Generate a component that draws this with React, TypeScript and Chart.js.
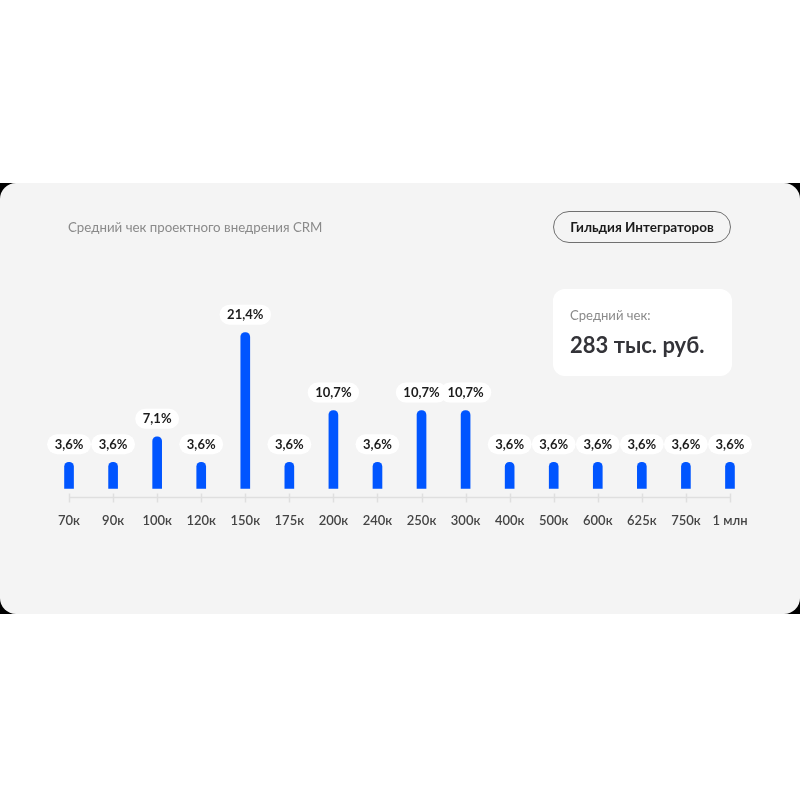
import React, { useEffect, useRef } from "react";
import { Chart, registerables } from "chart.js";

Chart.register(...registerables);

// средний чек, категории по оси X
const checkLabels = [
  "70к", "90к", "100к", "120к", "150к", "175к", "200к", "240к",
  "250к", "300к", "400к", "500к", "600к", "625к", "750к", "1 млн",
];
// доля проектов, %
const shares = [
  3.6, 3.6, 7.1, 3.6, 21.4, 3.6, 10.7, 3.6,
  10.7, 10.7, 3.6, 3.6, 3.6, 3.6, 3.6, 3.6,
];

const FONT = "Lato, 'Noto Sans', sans-serif";
const BLUE = "#0055ff";

const fmt = (v: number) => String(v).replace(".", ",") + "%";

const axisLinePlugin = {
  id: "axisLine",
  beforeDatasetsDraw(chart: any) {
    const { ctx, chartArea, scales } = chart;
    const x = scales.x;
    const y0 = chartArea.bottom;
    const first = x.getPixelForTick(0);
    const last = x.getPixelForTick(checkLabels.length - 1);
    ctx.save();
    ctx.strokeStyle = "#dfdfdf";
    ctx.lineWidth = 1.5;
    ctx.beginPath();
    ctx.moveTo(first, y0);
    ctx.lineTo(last, y0);
    for (let i = 0; i < checkLabels.length; i++) {
      const px = Math.round(x.getPixelForTick(i)) + 0.5;
      ctx.moveTo(px, y0 - 4);
      ctx.lineTo(px, y0 + 5);
    }
    ctx.stroke();
    ctx.restore();
  },
};

const pillPlugin = {
  id: "pills",
  afterDatasetsDraw(chart: any) {
    const { ctx } = chart;
    const meta = chart.getDatasetMeta(0);
    ctx.save();
    ctx.font = `bold 13px ${FONT}`;
    ctx.textAlign = "center";
    ctx.textBaseline = "middle";
    meta.data.forEach((bar: any, i: number) => {
      const text = fmt(shares[i]);
      const w = ctx.measureText(text).width + 15;
      const h = 20;
      const bottom = bar.y - 8;
      ctx.fillStyle = "#ffffff";
      ctx.beginPath();
      ctx.roundRect(bar.x - w / 2, bottom - h, w, h, h / 2);
      ctx.fill();
      ctx.fillStyle = "#1c1c1c";
      ctx.fillText(text, bar.x, bottom - h / 2 + 0.5);
    });
    ctx.restore();
  },
};

const BarChart = () => {
  const canvasRef = useRef<HTMLCanvasElement>(null);

  useEffect(() => {
    const ctx = canvasRef.current?.getContext("2d") as CanvasRenderingContext2D;
    const chart = new Chart(ctx, {
      type: "bar",
      data: {
        labels: checkLabels,
        datasets: [
          {
            data: shares,
            backgroundColor: BLUE,
            barThickness: 9,
            borderRadius: 5,
          },
        ],
      },
      options: {
        responsive: false,
        animation: false,
        events: [],
        layout: { padding: { left: 47, right: 48, top: 270, bottom: 255 } },
        plugins: { legend: { display: false }, tooltip: { enabled: false } },
        scales: {
          x: {
            offset: true,
            grid: { display: false, drawTicks: false },
            border: { display: false },
            ticks: {
              color: "#444444",
              padding: 16,
              font: { family: FONT, size: 13, weight: "600" },
            },
          },
          y: { display: false, min: -1.225, max: 30 },
        },
      },
      plugins: [axisLinePlugin, pillPlugin],
    } as any);

    return () => {
      chart.destroy();
    };
  }, []);

  return (
    <canvas
      ref={canvasRef}
      width={800}
      height={800}
      style={{ position: "absolute", left: 0, top: 0 }}
    />
  );
};

export default function App() {
  return (
    <div
      style={{
        position: "absolute",
        left: 0,
        top: 0,
        width: 800,
        height: 800,
        background: "#ffffff",
        fontFamily: FONT,
        overflow: "hidden",
      }}
    >
      <div
        style={{ position: "absolute", left: 0, top: 183, width: 800, height: 431, background: "#000" }}
      >
        <div style={{ width: "100%", height: "100%", background: "#f4f4f4", borderRadius: 16 }} />
      </div>
      <BarChart />
      <div
        style={{
          position: "absolute",
          left: 68,
          top: 219,
          fontSize: 13.3,
          lineHeight: "16px",
          color: "#8a8a8a",
        }}
      >
        Средний чек проектного внедрения CRM
      </div>
      <div
        style={{
          position: "absolute",
          left: 553,
          top: 211,
          width: 178,
          height: 32,
          boxSizing: "border-box",
          border: "1px solid #707070",
          borderRadius: 16,
          display: "flex",
          alignItems: "center",
          justifyContent: "center",
          fontSize: 13.5,
          fontWeight: 700,
          color: "#1a1a1a",
        }}
      >
        Гильдия Интеграторов
      </div>
      <div
        style={{
          position: "absolute",
          left: 553,
          top: 289,
          width: 179,
          height: 87,
          background: "#ffffff",
          borderRadius: 12,
        }}
      >
        <div
          style={{
            position: "absolute",
            left: 17,
            top: 18,
            fontSize: 13.1,
            lineHeight: "16px",
            color: "#8a8a8a",
          }}
        >
          Средний чек:
        </div>
        <div
          style={{
            position: "absolute",
            left: 17,
            top: 42,
            fontSize: 22,
            lineHeight: "28px",
            fontWeight: 700,
            color: "#333338",
          }}
        >
          283 тыс. руб.
        </div>
      </div>
    </div>
  );
}
